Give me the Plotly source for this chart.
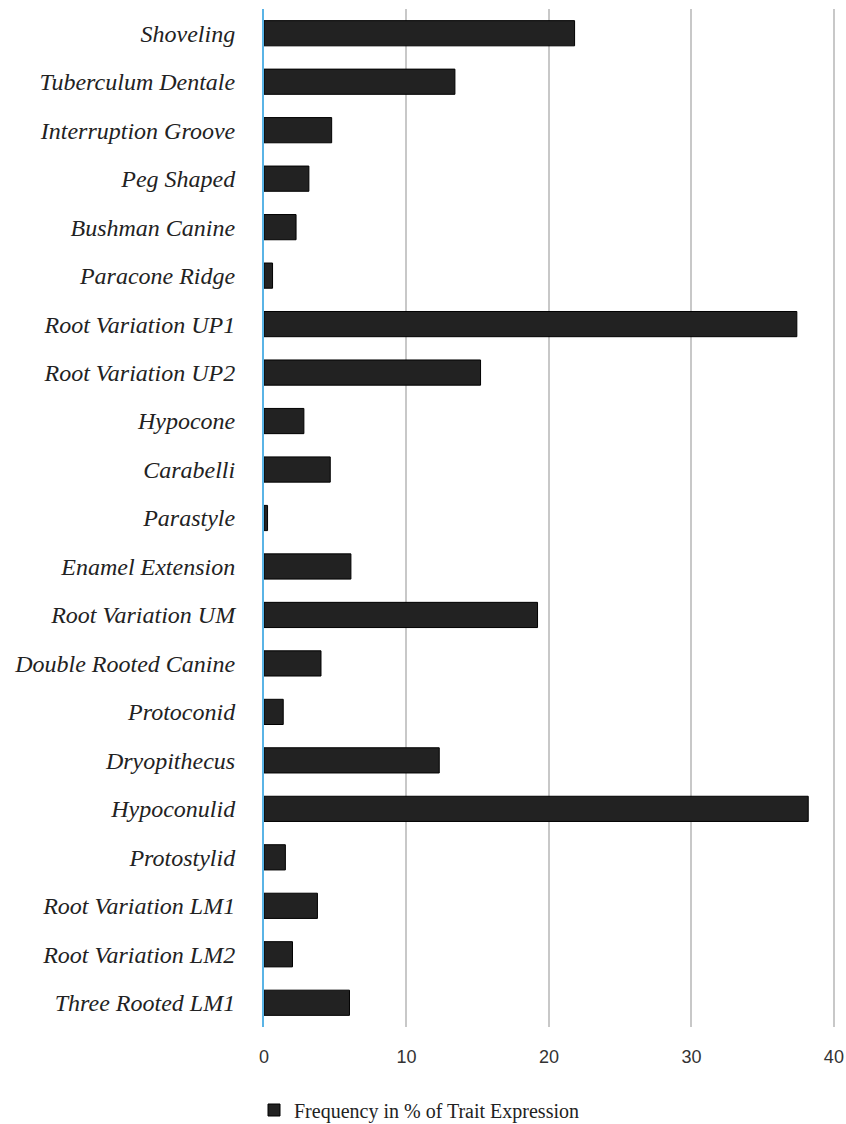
import plotly.graph_objects as go

categories = [
    "Shoveling", "Tuberculum Dentale", "Interruption Groove", "Peg Shaped",
    "Bushman Canine", "Paracone Ridge", "Root Variation UP1", "Root Variation UP2",
    "Hypocone", "Carabelli", "Parastyle", "Enamel Extension", "Root Variation UM",
    "Double Rooted Canine", "Protoconid", "Dryopithecus", "Hypoconulid",
    "Protostylid", "Root Variation LM1", "Root Variation LM2", "Three Rooted LM1",
]
values = [
    21.8, 13.4, 4.75, 3.15, 2.25, 0.6, 37.4, 15.2, 2.8, 4.65, 0.25, 6.1, 19.2,
    4.0, 1.35, 12.3, 38.2, 1.5, 3.75, 2.0, 6.0,
]
series_name = "Frequency in % of Trait Expression"
x_ticks = [0, 10, 20, 30, 40]

fig = go.Figure()
fig.add_trace(go.Bar(
    y=categories, x=values, orientation="h", name=series_name,
    marker=dict(color="#222222", line=dict(color="#000000", width=1)),
    showlegend=True,
))

fig.update_layout(
    width=846, height=1124,
    margin=dict(l=264, r=5, t=9, b=97, autoexpand=False),
    paper_bgcolor="white", plot_bgcolor="white",
    bargap=0.48,
    xaxis=dict(
        range=[0, 40.5], tickvals=x_ticks, showgrid=True, gridcolor="#c8c8c8",
        gridwidth=2, zeroline=False, showline=False, automargin=False,
        tickfont=dict(family="Liberation Sans, Arial", size=18, color="#333333"),
        ticks="", ticklabelstandoff=17,
    ),
    yaxis=dict(
        categoryorder="array", categoryarray=categories, autorange="reversed",
        showline=True, linecolor="#5ab4e6", linewidth=2, showgrid=False,
        zeroline=False, ticks="", ticklabelstandoff=22, automargin=False,
        tickfont=dict(family="Liberation Serif, Times New Roman", size=24,
                      color="#222222", style="italic"),
    ),
    legend=dict(
        orientation="h", xref="container", yref="container",
        x=254/846, xanchor="left", y=1 - 1110/1124, yanchor="middle",
        font=dict(family="Liberation Serif, Times New Roman", size=20, color="#222222"),
    ),
)

fig.write_html(
    "out.html",
    config={"displayModeBar": False},
    post_script="document.body.style.margin='0';document.body.style.overflow='hidden';",
)
